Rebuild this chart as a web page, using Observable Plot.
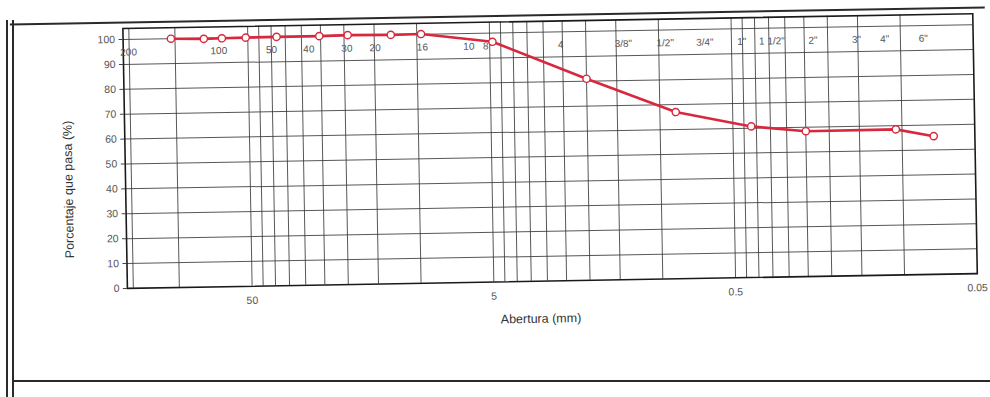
<!DOCTYPE html>
<html>
<head>
<meta charset="utf-8">
<script src="https://cdn.jsdelivr.net/npm/d3@7"></script>
<script src="https://cdn.jsdelivr.net/npm/@observablehq/plot@0.6"></script>
<style>
  html, body { margin: 0; padding: 0; background: #fff; }
  #page { position: relative; width: 990px; height: 397px; overflow: hidden; background: #fff; }
  #chart { position: absolute; left: 0; top: 0; width: 990px; height: 397px;
           transform: rotate(-1deg); transform-origin: 495px 198.5px; }
  .edge { position: absolute; background: #2a2a2a; }
</style>
</head>
<body>
<div id="page">
  <div id="chart">
    <div class="edge" style="left:13px; top:15px; width:975px; height:1.5px;"></div>
  </div>
  <div class="edge" style="left:13px; top:380px; width:977px; height:1.5px;"></div>
  <div class="edge" style="left:6px; top:20px; width:2px; height:377px;"></div>
  <div class="edge" style="left:12px; top:20px; width:1.5px; height:377px;"></div>
</div>
<script>
// Measured sieve results: aperture (mm) vs percentage passing
const aperture = [104, 76, 64, 51, 38, 25.3, 19.3, 12.8, 9.6, 4.87, 2.0, 0.86, 0.42, 0.25, 0.106, 0.074];
const passing  = [100, 99.7, 99.8, 99.9, 100, 100, 100.2, 100, 100.1, 96.5, 81, 67, 60.7, 58.4, 58.5, 55.5];

// Vertical grid of the printed chart (mm)
const gridApertures = [155, 100, 50, 45, 40, 35, 30, 25, 20, 15, 10, 5, 4.5, 4, 3.5, 3, 2.5, 2, 1.5, 1,
                       0.5, 0.45, 0.4, 0.35, 0.3, 0.25, 0.2, 0.15, 0.1];

// Sieve designations printed along the top
const sieveLabels    = ["200", "100", "50", "40", "30", "20", "16", "10", "8", "4",
                        "3/8\"", "1/2\"", "3/4\"", "1\"", "1 1/2\"", "2\"", "3\"", "4\"", "6\""];
const sievePositions = [156, 66, 40, 28, 19.5, 14.9, 9.5, 6.1, 5.2, 2.54,
                        1.4, 0.94, 0.644, 0.453, 0.34, 0.23, 0.152, 0.116, 0.0805];
const sieveRowLevel = 94.8;

const xTicks = [50, 5, 0.5, 0.05];
const yTicks = [0, 10, 20, 30, 40, 50, 60, 70, 80, 90, 100];

const points = aperture.map((a, i) => ({aperture: a, passing: passing[i]}));
const sieves = sieveLabels.map((s, i) => ({label: s, aperture: sievePositions[i], level: sieveRowLevel}));

const red = "#d8283e";

const chart = Plot.plot({
  width: 990,
  height: 397,
  marginLeft: 125.4,
  marginRight: 14.6,
  marginTop: 21.6,
  marginBottom: 115.5,
  style: {fontFamily: "'Liberation Sans', Arial, sans-serif", fontSize: "10.5px", background: "transparent", color: "#444"},
  x: {type: "log", domain: [164, 0.05], axis: null},
  y: {domain: [0, 104.4]},
  marks: [
    Plot.ruleX(gridApertures, {stroke: "#3a3a3a", strokeWidth: 1, strokeOpacity: 0.85}),
    Plot.ruleY(yTicks.filter(d => d > 0), {stroke: "#3a3a3a", strokeWidth: 1, strokeOpacity: 0.85}),
    Plot.frame({stroke: "#1a1a1a", strokeWidth: 1.6}),
    Plot.axisY({ticks: yTicks, tickSize: 4, tickPadding: 4, label: null, fill: "#555"}),
    Plot.text(xTicks, {x: d => d, frameAnchor: "bottom", lineAnchor: "middle", dy: 14.3,
                       text: d => String(d), fill: "#555", fontSize: 10.5}),
    Plot.text(sieves, {x: "aperture", y: "level", text: "label", fill: "#555", fontSize: 10}),
    Plot.line(points, {x: "aperture", y: "passing", stroke: red, strokeWidth: 2.6}),
    Plot.dot(points, {x: "aperture", y: "passing", r: 3.6, fill: "white", stroke: red, strokeWidth: 1.4}),
    Plot.text(["Abertura (mm)"], {frameAnchor: "bottom", lineAnchor: "middle", textAnchor: "middle",
                                  dx: -12, dy: 37.5, fontSize: 12.5, fill: "#333"}),
    Plot.text(["Porcentaje que pasa (%)"], {frameAnchor: "left", rotate: -90, textAnchor: "middle", lineAnchor: "middle",
                                            dx: -57, dy: 30, fontSize: 12.5, fill: "#333"})
  ]
});
document.getElementById("chart").prepend(chart);
</script>
</body>
</html>
